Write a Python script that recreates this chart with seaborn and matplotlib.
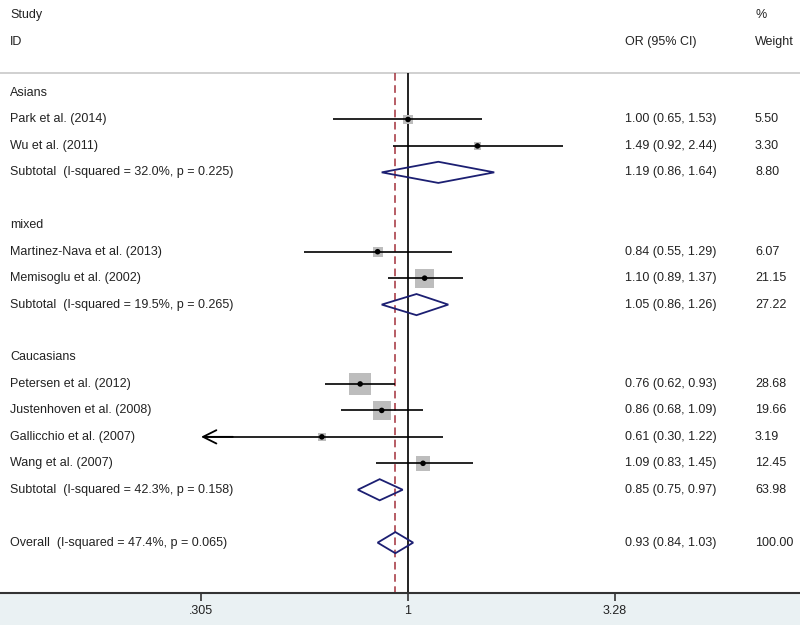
import numpy as np
import pandas as pd
import matplotlib
matplotlib.use("Agg")
import matplotlib.pyplot as plt
import seaborn as sns
from matplotlib.patches import Polygon
from matplotlib import transforms

# ---- data -----------------------------------------------------------------
groups = ["Asians", "mixed", "Caucasians"]

study = ["Park et al. (2014)", "Wu et al. (2011)",
         "Martinez-Nava et al. (2013)", "Memisoglu et al. (2002)",
         "Petersen et al. (2012)", "Justenhoven et al. (2008)",
         "Gallicchio et al. (2007)", "Wang et al. (2007)"]
study_group = ["Asians", "Asians", "mixed", "mixed",
               "Caucasians", "Caucasians", "Caucasians", "Caucasians"]
odds = [1.00, 1.49, 0.84, 1.10, 0.76, 0.86, 0.61, 1.09]
ci_lo = [0.65, 0.92, 0.55, 0.89, 0.62, 0.68, 0.30, 0.83]
ci_hi = [1.53, 2.44, 1.29, 1.37, 0.93, 1.09, 1.22, 1.45]
weight = [5.50, 3.30, 6.07, 21.15, 28.68, 19.66, 3.19, 12.45]

sub_i2 = ["32.0%", "19.5%", "42.3%"]
sub_p = ["0.225", "0.265", "0.158"]
sub_or = [1.19, 1.05, 0.85]
sub_lo = [0.86, 0.86, 0.75]
sub_hi = [1.64, 1.26, 0.97]
sub_w = [8.80, 27.22, 63.98]

overall = dict(i2="47.4%", p="0.065", est=0.93, lo=0.84, hi=1.03, w=100.00)

tick_vals = [0.305, 1, 3.28]
tick_labels = [".305", "1", "3.28"]

# ---- layout rows ----------------------------------------------------------
df = pd.DataFrame(dict(study=study, group=study_group, OR=odds,
                       lo=ci_lo, hi=ci_hi, w=weight))
rows = {}
heads, subs = [], []
r = 0
for g in groups:
    heads.append((g, r)); r += 1
    for idx in df.index[df.group == g]:
        rows[idx] = r; r += 1
    subs.append(r); r += 2
overall_row = r
df["row"] = df.index.map(rows)

# ---- figure ---------------------------------------------------------------
sns.set_style("white")
plt.rcParams["font.family"] = ["Liberation Sans", "DejaVu Sans"]
txt_col = "#222222"
navy = "#1c1f72"
fs = 9

fig = plt.figure(figsize=(8, 6.25), dpi=100)
fig.patch.set_facecolor("#eaf1f3")
ax = fig.add_axes([0, 32 / 625, 1, 593 / 625])
ax.set_facecolor("white")

ppu = 174.3  # pixels per log unit
x0 = 408
ax.set_xscale("log")
ax.set_xlim(np.exp(-x0 / ppu), np.exp((800 - x0) / ppu))
rh = 26.45
ax.set_ylim(500 / rh, -93 / rh)

for s in ["left", "right", "top"]:
    ax.spines[s].set_visible(False)
ax.spines["bottom"].set_color("#333333")
ax.spines["bottom"].set_linewidth(1.5)
ax.set_yticks([])
ax.set_xticks(tick_vals)
ax.set_xticklabels(tick_labels, fontsize=fs, color=txt_col)
ax.xaxis.set_minor_locator(matplotlib.ticker.NullLocator())
ax.tick_params(axis="x", direction="out", length=6, width=1.2,
               color="#333333", bottom=True, pad=3)

# header separator and reference lines
sep = (73 - 93) / rh
ax.axhline(sep, color="#c8c8c8", lw=1.2)
ybot = 500 / rh
ax.vlines(1, sep, ybot, color="#111111", lw=1.3, zorder=2)
ax.vlines(overall["est"], sep, ybot, color="#a3303a", lw=1.1,
          linestyles=(0, (5, 3)), zorder=2)

# CI lines (arrow when the CI runs past the axis)
for _, d in df.iterrows():
    if d.lo < tick_vals[0]:
        ax.hlines(d.row, tick_vals[0] * 1.02, d.hi, color="black", lw=1.2, zorder=3)
        ax.annotate("", xy=(tick_vals[0], d.row), xytext=(tick_vals[0] * 1.2, d.row),
                    arrowprops=dict(arrowstyle="->", lw=1.3, color="black",
                                    mutation_scale=24, shrinkA=0, shrinkB=0),
                    zorder=3)
    else:
        ax.hlines(d.row, d.lo, d.hi, color="black", lw=1.2, zorder=3)

# weight squares + point estimates
side_px = 4.11 * np.sqrt(df.w)
sns.scatterplot(data=df, x="OR", y="row", marker="s", s=(side_px * 0.72) ** 2,
                color="#bdbdbd", edgecolor="none", ax=ax, zorder=2, legend=False)
sns.scatterplot(data=df, x="OR", y="row", marker="o", s=16, color="black",
                edgecolor="none", ax=ax, zorder=4, legend=False)

# diamonds
def diamond(est, lo, hi, row):
    h = 0.4
    ax.add_patch(Polygon([(lo, row), (est, row - h), (hi, row), (est, row + h)],
                         closed=True, fill=False, edgecolor=navy, lw=1.3, zorder=5))

for i, rr in enumerate(subs):
    diamond(sub_or[i], sub_lo[i], sub_hi[i], rr)
diamond(overall["est"], overall["lo"], overall["hi"], overall_row)

# text columns
tr = transforms.blended_transform_factory(ax.transAxes, ax.transData)
lx, orx, wx = 10 / 800, 625 / 800, 755 / 800

def put(x, y, s, **kw):
    ax.text(x, y, s, transform=tr, fontsize=fs, color=txt_col, va="center", **kw)

put(lx, (15 - 93) / rh, "Study")
put(lx, (42 - 93) / rh, "ID")
put(orx, (42 - 93) / rh, "OR (95% CI)")
put(wx, (15 - 93) / rh, "%")
put(wx, (42 - 93) / rh, "Weight")

for g, rr in heads:
    put(lx, rr, g)
for _, d in df.iterrows():
    put(lx, d.row, d.study)
    put(orx, d.row, f"{d.OR:.2f} ({d.lo:.2f}, {d.hi:.2f})")
    put(wx, d.row, f"{d.w:.2f}")
for i, rr in enumerate(subs):
    put(lx, rr, f"Subtotal  (I-squared = {sub_i2[i]}, p = {sub_p[i]})")
    put(orx, rr, f"{sub_or[i]:.2f} ({sub_lo[i]:.2f}, {sub_hi[i]:.2f})")
    put(wx, rr, f"{sub_w[i]:.2f}")
put(lx, overall_row, f"Overall  (I-squared = {overall['i2']}, p = {overall['p']})")
put(orx, overall_row, f"{overall['est']:.2f} ({overall['lo']:.2f}, {overall['hi']:.2f})")
put(wx, overall_row, f"{overall['w']:.2f}")

ax.set_xlabel("")
ax.set_ylabel("")
fig.savefig("out.png", dpi=100, facecolor=fig.get_facecolor())
